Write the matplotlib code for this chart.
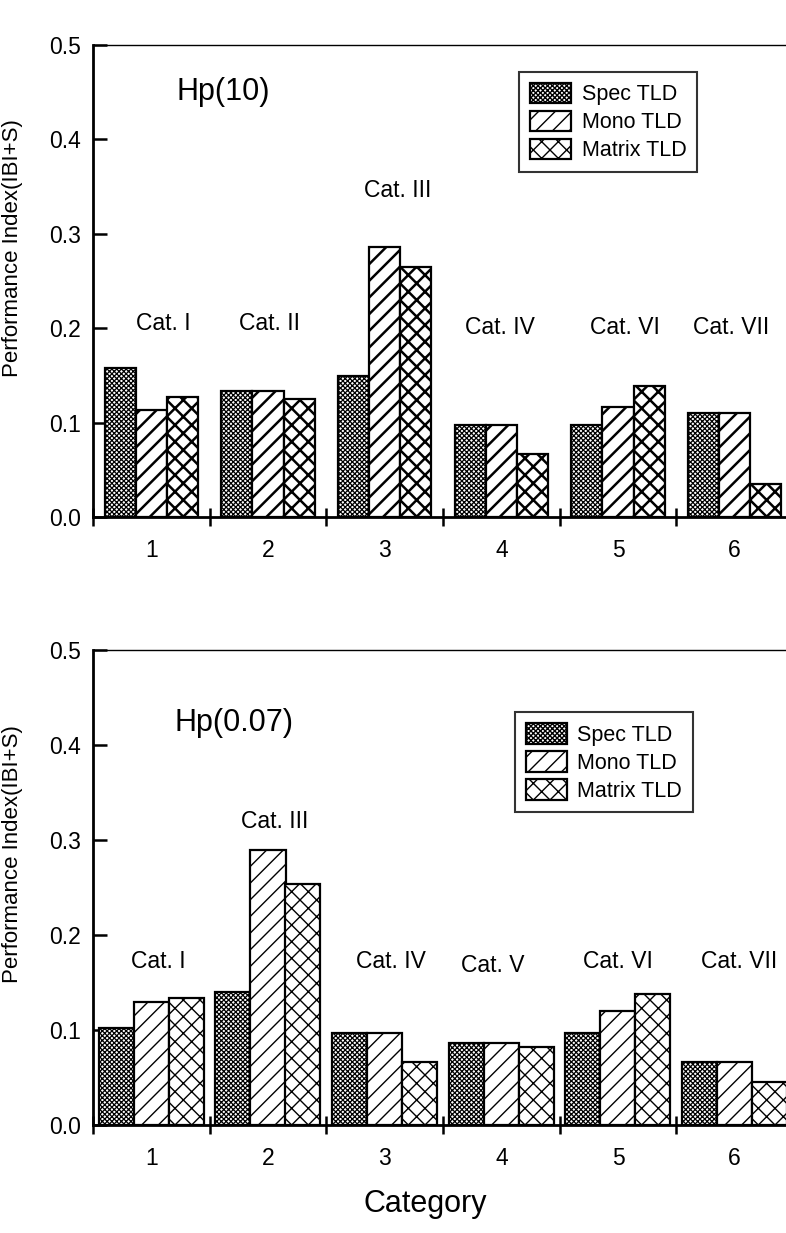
import matplotlib
matplotlib.use("Agg")
import matplotlib.pyplot as plt
import numpy as np

plt.rcParams['font.family'] = ['Liberation Sans', 'DejaVu Sans']

categories = [1, 2, 3, 4, 5, 6]
series_names = ["Spec TLD", "Mono TLD", "Matrix TLD"]

# Hp(10) panel
hp10_spec = [0.158, 0.134, 0.149, 0.097, 0.097, 0.110]
hp10_mono = [0.113, 0.133, 0.286, 0.097, 0.116, 0.110]
hp10_matrix = [0.127, 0.125, 0.265, 0.067, 0.139, 0.035]
hp10_cat_labels = ["Cat. I", "Cat. II", "Cat. III", "Cat. IV", "Cat. VI", "Cat. VII"]

# Hp(0.07) panel
hp007_spec = [0.102, 0.140, 0.097, 0.086, 0.097, 0.066]
hp007_mono = [0.129, 0.290, 0.097, 0.086, 0.120, 0.066]
hp007_matrix = [0.134, 0.254, 0.066, 0.082, 0.138, 0.045]
hp007_cat_labels = ["Cat. I", "Cat. III", "Cat. IV", "Cat. V", "Cat. VI", "Cat. VII"]

yticks = [0.0, 0.1, 0.2, 0.3, 0.4, 0.5]

fig = plt.figure(figsize=(7.86, 12.33), dpi=100)

W = 786.0
H = 1233.0
def axes_rect(left_px, right_px, top_px, bottom_px):
    return [left_px / W, 1 - bottom_px / H, (right_px - left_px) / W, (bottom_px - top_px) / H]

hatches = ['xxxxxxx', '//', 'xx']

def make_panel(rect, data, width, title, title_xy, cat_labels, cat_pos, leg_anchor, hatch_lw, show_xlabel):
    ax = fig.add_axes(rect)
    x = np.array(categories, dtype=float)
    offs = [-width, 0, width]
    handles = []
    for vals, off, h, name in zip(data, offs, hatches, series_names):
        with plt.rc_context({'hatch.linewidth': 0.9 if h == 'xxxxxxx' else hatch_lw}):
            b = ax.bar(x + off, vals, width, facecolor='white', edgecolor='black',
                       linewidth=1.6, hatch=h, label=name, zorder=2)
        handles.append(b)
    ax.set_xlim(0.5, 6.5)
    ax.set_ylim(0, 0.5)
    ax.set_yticks(yticks)
    ax.set_yticklabels([f"{v:.1f}" for v in yticks], fontsize=16.5)
    ax.set_xticks(categories)
    ax.set_xticklabels([str(c) for c in categories], fontsize=16.5)
    ax.set_xticks([0.5, 1.5, 2.5, 3.5, 4.5, 5.5], minor=True)
    ax.tick_params(axis='x', which='major', length=0, pad=16)
    ax.tick_params(axis='x', which='minor', direction='inout', length=13, width=1.8)
    ax.tick_params(axis='y', which='major', direction='in', length=10, width=1.8, pad=9)
    ax.spines['right'].set_visible(False)
    ax.spines['top'].set_linewidth(1.0)
    ax.spines['left'].set_linewidth(2.0)
    ax.spines['bottom'].set_linewidth(2.0)
    ax.set_ylabel("Performance Index(IBI+S)", fontsize=16)
    ax.yaxis.set_label_coords(-0.10, 0.57)
    ax.text(title_xy[0], title_xy[1], title, fontsize=22, ha='center', va='center')
    for lab, (cx, cy) in zip(cat_labels, cat_pos):
        ax.text(cx, cy, lab, fontsize=16.5, ha='center', va='center')
    leg = ax.legend(handles=handles, loc='upper right', bbox_to_anchor=leg_anchor,
                    fontsize=15.5, frameon=True, fancybox=False, handlelength=1.9,
                    handleheight=1.1, handletextpad=0.5, borderpad=0.5, labelspacing=0.25,
                    borderaxespad=0)
    leg.get_frame().set_edgecolor('black')
    leg.get_frame().set_linewidth(1.5)
    if show_xlabel:
        ax.set_xlabel("Category", fontsize=22)
        ax.xaxis.set_label_coords(0.474, -0.135)
    return ax

make_panel(axes_rect(93, 793, 45, 517), [hp10_spec, hp10_mono, hp10_matrix], 0.267,
           "Hp(10)", (1.62, 0.450), hp10_cat_labels,
           [(1.10, 0.205), (2.01, 0.205), (3.11, 0.346), (3.99, 0.201), (5.06, 0.201), (5.97, 0.201)],
           (0.863, 0.943), 1.8, False)

make_panel(axes_rect(93, 793, 650, 1125), [hp007_spec, hp007_mono, hp007_matrix], 0.30,
           "Hp(0.07)", (1.71, 0.423), hp007_cat_labels,
           [(1.06, 0.172), (2.06, 0.319), (3.05, 0.172), (3.93, 0.168), (5.0, 0.172), (6.04, 0.172)],
           (0.857, 0.869), 1.0, True)

fig.savefig("out.png", dpi=100)
